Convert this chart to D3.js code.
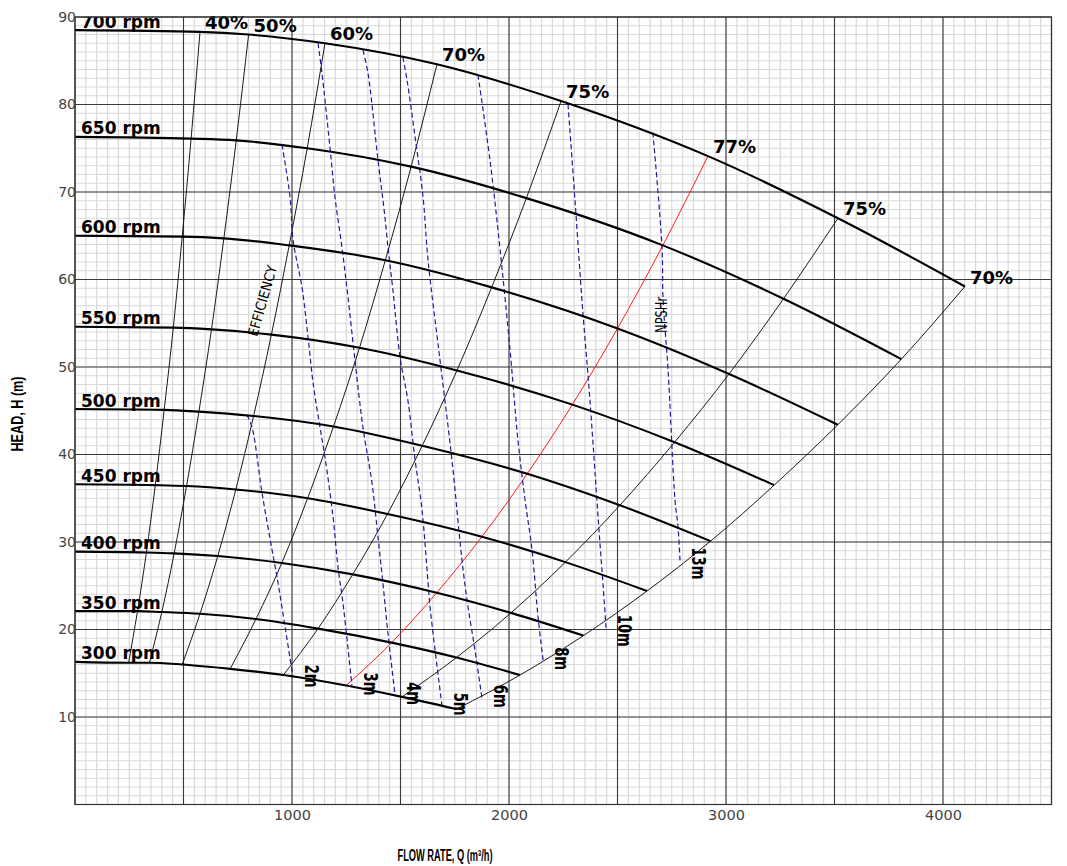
<!DOCTYPE html>
<html><head><meta charset="utf-8">
<script src="https://cdn.jsdelivr.net/npm/d3@7"></script>
<style>body{margin:0;background:#fff}</style>
</head><body>
<svg id="chart" width="1067" height="866"></svg>
<script>
// ---------- data ----------
const rpmList = [700, 650, 600, 550, 500, 450, 400, 350, 300];
// points on each speed curve: shut-off, then 40%,50%,60%,70%,75%,77%,75%,70% efficiency crossings
const q700 = [0, 576, 800, 1152, 1668, 2240, 2917, 3516, 4101];
const h700 = [88.5, 88.3, 88.0, 87.0, 84.6, 80.4, 74.1, 67.0, 59.2];
const q650 = [0, 535, 743, 1070, 1549, 2080, 2709, 3265, 3808];
const h650 = [76.3, 76.1, 75.9, 75.0, 72.9, 69.3, 63.9, 57.8, 50.9];
const q600 = [0, 494, 686, 987, 1430, 1920, 2500, 3014, 3515];
const h600 = [65.0, 64.9, 64.7, 63.9, 62.2, 59.1, 54.4, 49.2, 43.4];
const q550 = [0, 453, 629, 905, 1311, 1760, 2292, 2763, 3222];
const h550 = [54.6, 54.5, 54.3, 53.7, 52.2, 49.6, 45.7, 41.4, 36.5];
const q500 = [0, 411, 571, 823, 1191, 1600, 2084, 2511, 2929];
const h500 = [45.2, 45.1, 44.9, 44.4, 43.2, 41.0, 37.8, 34.2, 30.1];
const q450 = [0, 370, 514, 741, 1072, 1440, 1875, 2260, 2636];
const h450 = [36.6, 36.5, 36.4, 36.0, 35.0, 33.2, 30.6, 27.7, 24.4];
const q400 = [0, 329, 457, 658, 953, 1280, 1667, 2009, 2343];
const h400 = [28.9, 28.8, 28.7, 28.4, 27.6, 26.3, 24.2, 21.9, 19.3];
const q350 = [0, 288, 400, 576, 834, 1120, 1459, 1758, 2051];
const h350 = [22.1, 22.1, 22.0, 21.8, 21.2, 20.1, 18.5, 16.8, 14.8];
const q300 = [0, 247, 343, 494, 715, 960, 1250, 1507, 1758];
const h300 = [16.3, 16.2, 16.2, 16.0, 15.5, 14.8, 13.6, 12.3, 10.9];

const effLabels = ["40%", "50%", "60%", "70%", "75%", "77%", "75%", "70%"];
const bepIndex = 5; // 77% line drawn in red

// NPSHr iso-lines (Q m3/h, H m)
const npshLabels = ["2m", "3m", "4m", "5m", "6m", "8m", "10m", "13m"];
const npsh2 = [[793,44.5],[816,43.1],[862,35.6],[908,29.1],[931,26.0],[968,20.3],[1005,14.5]];
const npsh3 = [[954,75.4],[991,69.4],[1005,64.5],[1046,59.1],[1074,53.4],[1097,48.2],[1129,43.1],[1152,39.7],[1189,32.9],[1212,27.1],[1235,23.0],[1276,13.6]];
const npsh4 = [[1120,87.0],[1138,83.6],[1175,75.1],[1198,69.4],[1230,63.7],[1258,58.0],[1290,50.8],[1327,43.1],[1369,36.7],[1396,30.6],[1419,25.3],[1442,19.6],[1475,12.5]];
const npsh5 = [[1327,86.2],[1350,83.6],[1396,73.7],[1428,67.2],[1442,63.7],[1465,58.8],[1498,51.1],[1534,46.2],[1567,39.4],[1599,33.7],[1627,25.3],[1636,22.6],[1691,11.3]];
const npsh6 = [[1511,85.4],[1530,82.8],[1567,76.3],[1604,69.4],[1627,62.2],[1682,50.8],[1737,39.4],[1783,28.0],[1811,22.6],[1843,17.7],[1875,12.2]];
const npsh8 = [[1857,83.4],[1912,73.7],[1959,63.4],[2005,51.9],[2041,41.7],[2074,34.8],[2106,29.1],[2134,21.4],[2157,16.5]];
const npsh10 = [[2272,80.0],[2304,69.1],[2336,57.7],[2373,46.2],[2405,34.8],[2419,29.9],[2433,25.3],[2447,20.2]];
const npsh13 = [[2663,76.8],[2705,63.7],[2710,57.7],[2733,49.7],[2765,34.8],[2779,31.7],[2788,27.9]];

const xTicks = [1000, 2000, 3000, 4000];
const yTicks = [10, 20, 30, 40, 50, 60, 70, 80, 90];
const efficiencyNote = {text: "EFFICIENCY", q: 839, h: 53.4};
const npshNote = {text: "NPSHr", q: 2728, h: 53.9};

// ---------- setup ----------
const svg = d3.select("#chart");
const x = d3.scaleLinear().domain([0, 4500]).range([75, 1051.5]);
const y = d3.scaleLinear().domain([0, 90]).range([804.5, 17]);
const X0 = x.range()[0], X1 = x.range()[1], Y0 = y.range()[0], Y1 = y.range()[1];

svg.append("defs").append("clipPath").attr("id", "plot")
  .append("rect").attr("x", X0).attr("y", Y1).attr("width", X1 - X0).attr("height", Y0 - Y1);

// minor grid
const grid = svg.append("g");
grid.selectAll(".vm").data(d3.range(0, 4501, 50)).join("line")
  .attr("x1", d => x(d)).attr("x2", d => x(d)).attr("y1", Y1).attr("y2", Y0)
  .attr("stroke", "#d9d9d9").attr("stroke-width", 1.2);
grid.selectAll(".hm").data(d3.range(0, 91, 1)).join("line")
  .attr("y1", d => y(d)).attr("y2", d => y(d)).attr("x1", X0).attr("x2", X1)
  .attr("stroke", "#d9d9d9").attr("stroke-width", 1.2);
// major grid
grid.selectAll(".vM").data(d3.range(0, 4501, 500)).join("line")
  .attr("x1", d => x(d)).attr("x2", d => x(d)).attr("y1", Y1).attr("y2", Y0)
  .attr("stroke", "#3a3a3a").attr("stroke-width", 1.1);
grid.selectAll(".hM").data(d3.range(0, 91, 10)).join("line")
  .attr("y1", d => y(d)).attr("y2", d => y(d)).attr("x1", X0).attr("x2", X1)
  .attr("stroke", "#3a3a3a").attr("stroke-width", 1.1);

const plot = svg.append("g").attr("clip-path", "url(#plot)");

const speeds = [
  [700, q700, h700], [650, q650, h650], [600, q600, h600], [550, q550, h550],
  [500, q500, h500], [450, q450, h450], [400, q400, h400], [350, q350, h350], [300, q300, h300]
].map(([rpm, q, h]) => ({rpm, pts: q.map((v, i) => [v, h[i]])}));

const lineMono = d3.line().x(d => x(d[0])).y(d => y(d[1])).curve(d3.curveMonotoneX);
const lineSmooth = d3.line().x(d => x(d[0])).y(d => y(d[1])).curve(d3.curveCatmullRom.alpha(0.5));

// efficiency iso-lines
const effLines = effLabels.map((lab, k) => ({
  lab, k, pts: speeds.map(s => s.pts[k + 1]).slice().reverse()
}));
plot.selectAll(".eff").data(effLines).join("path")
  .attr("d", d => lineMono(d.pts)).attr("fill", "none")
  .attr("stroke", d => d.k === bepIndex ? "#ff1a1a" : "#1a1a1a")
  .attr("stroke-width", 1);

// NPSH lines
const npshSets = [npsh2, npsh3, npsh4, npsh5, npsh6, npsh8, npsh10, npsh13]
  .map((pts, i) => ({pts, lab: npshLabels[i]}));
plot.selectAll(".npsh").data(npshSets).join("path")
  .attr("d", d => lineSmooth(d.pts)).attr("fill", "none")
  .attr("stroke", "#1c1ca0").attr("stroke-width", 1.2).attr("stroke-dasharray", "5,3");

// speed curves
plot.selectAll(".spd").data(speeds).join("path")
  .attr("d", d => lineMono(d.pts)).attr("fill", "none")
  .attr("stroke", "#000").attr("stroke-width", 2.1);

// rpm labels
plot.selectAll(".rpm").data(speeds).join("text")
  .attr("x", d => x(d.pts[0][0]) + 6).attr("y", d => y(d.pts[0][1]) - 2.5)
  .attr("font-family", "DejaVu Sans, Verdana, sans-serif").attr("font-weight", "bold")
  .attr("font-size", 17).attr("fill", "#000")
  .text(d => d.rpm + " rpm");

// efficiency labels at the top (700 rpm) end
svg.append("g").selectAll("text").data(effLines).join("text")
  .attr("x", d => x(d.pts[d.pts.length - 1][0]) + 5)
  .attr("y", d => y(d.pts[d.pts.length - 1][1]) - 3)
  .attr("font-family", "DejaVu Sans, Verdana, sans-serif").attr("font-weight", "bold")
  .attr("font-size", 18).attr("fill", "#000")
  .text(d => d.lab);

// NPSH labels at lower end, rotated
svg.append("g").selectAll("text").data(npshSets).join("text")
  .attr("transform", d => {
    const p = d.pts[d.pts.length - 1];
    return `translate(${x(p[0]) + 8},${y(p[1]) - 13}) rotate(90)`;
  })
  .attr("font-family", "DejaVu Sans, Verdana, sans-serif").attr("font-weight", "bold")
  .attr("font-size", 19).attr("fill", "#000")
  .attr("textLength", d => d.lab.length > 2 ? 32 : 23).attr("lengthAdjust", "spacingAndGlyphs")
  .attr("dominant-baseline", "text-after-edge")
  .text(d => d.lab);

// annotations
svg.append("text")
  .attr("transform", `translate(${x(efficiencyNote.q)},${y(efficiencyNote.h)}) rotate(-74)`)
  .attr("font-family", "DejaVu Sans, sans-serif").attr("font-size", 14)
  .attr("textLength", 73).attr("lengthAdjust", "spacingAndGlyphs")
  .attr("fill", "#000").text(efficiencyNote.text);
svg.append("text")
  .attr("transform", `translate(${x(npshNote.q)},${y(npshNote.h)}) rotate(-90)`)
  .attr("font-family", "DejaVu Sans, sans-serif").attr("font-size", 16)
  .attr("textLength", 36).attr("lengthAdjust", "spacingAndGlyphs")
  .attr("fill", "#000").text(npshNote.text);

// frame
svg.append("rect").attr("x", X0).attr("y", Y1).attr("width", X1 - X0).attr("height", Y0 - Y1)
  .attr("fill", "none").attr("stroke", "#333").attr("stroke-width", 1.2);

// axes
const ax = svg.append("g").attr("transform", `translate(0,${Y0})`)
  .call(d3.axisBottom(x).tickValues(xTicks).tickSize(0).tickPadding(5).tickFormat(d3.format("d")));
ax.select(".domain").remove();
ax.selectAll("text").attr("font-family", "DejaVu Sans, Verdana, sans-serif").attr("font-size", 14.5).attr("fill", "#444");
const ay = svg.append("g").attr("transform", `translate(${X0 + 1},0)`)
  .call(d3.axisLeft(y).tickValues(yTicks).tickSize(0).tickPadding(0));
ay.select(".domain").remove();
ay.selectAll("text").attr("font-family", "DejaVu Sans, Verdana, sans-serif").attr("font-size", 14).attr("fill", "#444");

// axis titles
svg.append("text").attr("x", 445).attr("y", 861).attr("text-anchor", "middle")
  .attr("font-family", "Liberation Sans Narrow, Liberation Sans, Arial, sans-serif").attr("font-weight", "bold")
  .attr("font-size", 16).attr("textLength", 95).attr("lengthAdjust", "spacingAndGlyphs")
  .text("FLOW RATE, Q (m³/h)");
svg.append("text").attr("transform", "translate(23,414) rotate(-90)").attr("text-anchor", "middle")
  .attr("font-family", "Liberation Sans Narrow, Liberation Sans, Arial, sans-serif").attr("font-weight", "bold")
  .attr("font-size", 16).attr("textLength", 75).attr("lengthAdjust", "spacingAndGlyphs")
  .text("HEAD, H (m)");
</script>
</body></html>
